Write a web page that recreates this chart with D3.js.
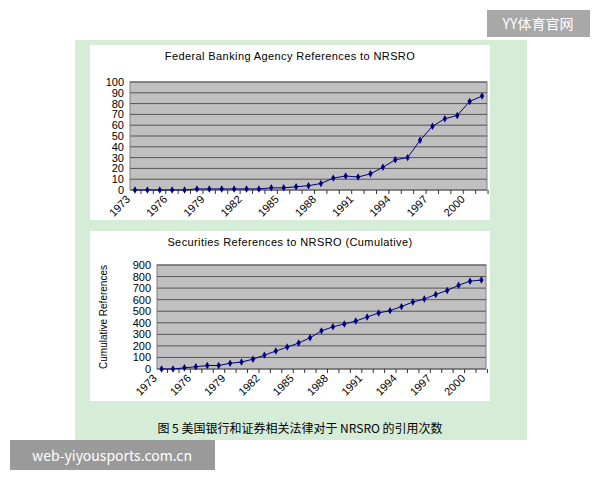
<!DOCTYPE html>
<html><head><meta charset="utf-8">
<script src="https://cdn.jsdelivr.net/npm/d3@7"></script>
<style>body{margin:0;background:#fff}</style></head>
<body><svg id="c" width="600" height="480"></svg>
<script>
// Federal banking agency references per year, 1973-2001
const years = d3.range(1973, 2002);
const bankingRefs = [0,0,0,0,0,1,1,1,1,1,1,2,2,3,4,6,11,13,12,15,21,28,30,46,59,66,69,82,87];
// Securities references (cumulative)
const securitiesRefs = [0,0,10,20,30,30,50,60,85,120,155,190,225,270,330,365,390,415,450,485,505,540,580,605,645,680,725,760,770];
const tickYears = [1973,1976,1979,1982,1985,1988,1991,1994,1997,2000];
const topTicks = d3.range(0, 101, 10);
const botTicks = d3.range(0, 901, 100);

const svg = d3.select("#c");
const font = "Liberation Sans, Arial, sans-serif";

svg.append("rect").attr("x",75).attr("y",40).attr("width",452).attr("height",400).attr("fill","#d5ecd6");

function chart(o) {
  svg.append("rect").attr("x",o.bx).attr("y",o.by).attr("width",o.bw).attr("height",o.bh).attr("fill","#fff");
  svg.append("text").attr("x",o.bx+o.bw/2).attr("y",o.by+15).attr("text-anchor","middle")
    .attr("font-family",font).attr("font-size",11).attr("letter-spacing",0.4).text(o.title);
  const x = d3.scaleLinear().domain([1972.6, 2001.4]).range([o.x0, o.x1]);
  const y = d3.scaleLinear().domain([0, o.max]).range([o.y1, o.y0]);
  svg.append("rect").attr("x",o.x0).attr("y",o.y0).attr("width",o.x1-o.x0).attr("height",o.y1-o.y0)
    .attr("fill","#c0c0c0").attr("stroke","#808080");
  const g = svg.append("g");
  g.selectAll("line.gr").data(o.ticks).join("line")
    .attr("x1",o.x0).attr("x2",o.x1).attr("y1",d=>y(d)).attr("y2",d=>y(d)).attr("stroke","#555");
  g.selectAll("text.yt").data(o.ticks).join("text")
    .attr("x",o.x0-6).attr("y",d=>y(d)+4).attr("text-anchor","end")
    .attr("font-family",font).attr("font-size",11).text(d=>d);
  g.selectAll("line.xt").data(years).join("line")
    .attr("x1",d=>x(d)+6).attr("x2",d=>x(d)+6).attr("y1",o.y1).attr("y2",o.y1+4).attr("stroke","#333");
  g.selectAll("text.xl").data(tickYears).join("text")
    .attr("transform",d=>`translate(${x(d)-4},${o.y1+10}) rotate(-45)`).attr("text-anchor","end")
    .attr("font-family",font).attr("font-size",11).text(d=>d);
  const line = d3.line().x((d,i)=>x(years[i])).y(d=>y(d));
  g.append("path").datum(o.vals).attr("d",line).attr("fill","none").attr("stroke","#000080").attr("stroke-width",1);
  g.selectAll("path.m").data(o.vals).join("path")
    .attr("d",d3.symbol(d3.symbolDiamond,16))
    .attr("transform",(d,i)=>`translate(${x(years[i])},${y(d)})`).attr("fill","#000080");
  if (o.ylabel) {
    svg.append("text").attr("transform",`translate(${o.bx+17},${(o.y0+o.y1)/2}) rotate(-90)`)
      .attr("text-anchor","middle").attr("font-family",font).attr("font-size",10).text(o.ylabel);
  }
}

chart({bx:90,by:45,bw:400,bh:175,title:"Federal Banking Agency References to NRSRO",
  x0:130,x1:487,y0:82,y1:190,max:100,ticks:topTicks,vals:bankingRefs});
chart({bx:90,by:231,bw:400,bh:170,title:"Securities References to NRSRO (Cumulative)",
  x0:157,x1:486,y0:265,y1:369,max:900,ticks:botTicks,vals:securitiesRefs,ylabel:"Cumulative References"});

svg.append("text").attr("x",300).attr("y",433).attr("text-anchor","middle")
  .attr("font-family","Noto Sans CJK SC").attr("font-size",12).text("图 5 美国银行和证券相关法律对于 NRSRO 的引用次数");

svg.append("rect").attr("x",487).attr("y",10).attr("width",103).attr("height",27).attr("fill","#999").attr("opacity",0.85);
svg.append("text").attr("x",538).attr("y",29).attr("text-anchor","middle").attr("fill","#fff")
  .attr("font-family","Noto Sans CJK SC").attr("font-size",14).text("YY体育官网");
svg.append("rect").attr("x",10).attr("y",440).attr("width",205).attr("height",30).attr("fill","#888").attr("opacity",0.85);
svg.append("text").attr("x",112).attr("y",461).attr("text-anchor","middle").attr("fill","#fff")
  .attr("font-family","Noto Sans CJK SC").attr("font-size",14).text("web-yiyousports.com.cn");
</script></body></html>
